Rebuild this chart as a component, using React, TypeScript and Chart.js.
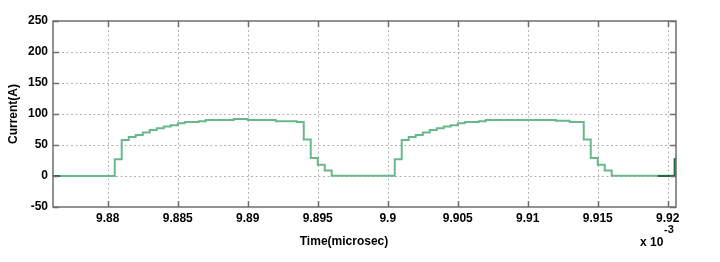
import { useEffect, useRef } from 'react';
import { Chart, registerables } from 'chart.js';

Chart.register(...registerables);

// Time axis values are in units of 1e-3 (label "x 10^-3")
const timeMs = [
  9.8761, 9.8805, 9.881, 9.8815, 9.882, 9.8825, 9.883, 9.8835, 9.884, 9.8845,
  9.885, 9.8855, 9.8865, 9.887, 9.889, 9.89, 9.892, 9.8935, 9.894, 9.8945,
  9.895, 9.8955, 9.896,
  9.9005, 9.901, 9.9015, 9.902, 9.9025, 9.903, 9.9035, 9.904, 9.9045,
  9.905, 9.9055, 9.9065, 9.907, 9.912, 9.913, 9.914, 9.9145,
  9.915, 9.9155, 9.916, 9.9205, 9.92059,
];
const currentA = [
  0, 27, 58, 63, 66, 70, 74, 77, 80, 82,
  85, 87, 88.5, 90.5, 92, 90.5, 88.5, 87, 59, 29,
  18, 9, 0.5,
  27, 58, 63, 66, 70, 74, 77, 80, 82,
  85, 87, 88.5, 90.5, 89, 87, 59, 29,
  18, 9, 0.5, 27, 27,
];

// Darker trace fragments visible at both edges
const edgeLeftTime = [9.8761, 9.8766];
const edgeLeftCurrent = [0, 0];
const edgeRightTime = [9.9193, 9.9205, 9.92059];
const edgeRightCurrent = [0, 27, 27];

const xTicks = [9.88, 9.885, 9.89, 9.895, 9.9, 9.905, 9.91, 9.915, 9.92];
const xTickLabels = ['9.88', '9.885', '9.89', '9.895', '9.9', '9.905', '9.91', '9.915', '9.92'];
const yTicks = [-50, 0, 50, 100, 150, 200, 250];

const X_MIN = 9.87609;
const X_MAX = 9.92059;
const FONT = '"Liberation Sans", Arial, sans-serif';

const toPoints = (xs: number[], ys: number[]) => xs.map((x, i) => ({ x, y: ys[i] }));

const framePlugin = {
  id: 'matlabFrame',
  beforeDatasetsDraw(chart: any) {
    const { ctx, chartArea: a, scales } = chart;
    ctx.save();
    ctx.strokeStyle = '#b2b2b2';
    ctx.lineWidth = 1;
    ctx.setLineDash([2, 2.5]);
    for (const v of xTicks) {
      const px = Math.round(scales.x.getPixelForValue(v)) + 0.5;
      ctx.beginPath();
      ctx.moveTo(px, a.top);
      ctx.lineTo(px, a.bottom);
      ctx.stroke();
    }
    for (const v of yTicks) {
      if (v === -50 || v === 250) continue;
      const py = Math.round(scales.y.getPixelForValue(v)) + 0.5;
      ctx.beginPath();
      ctx.moveTo(a.left, py);
      ctx.lineTo(a.right, py);
      ctx.stroke();
    }
    ctx.restore();
  },
  afterDatasetsDraw(chart: any) {
    const { ctx, chartArea: a, scales } = chart;
    ctx.save();
    ctx.strokeStyle = '#6e6e6e';
    ctx.lineWidth = 1.5;
    ctx.setLineDash([]);
    ctx.strokeRect(a.left, a.top, a.right - a.left, a.bottom - a.top);
    const tl = 6;
    ctx.beginPath();
    for (const v of xTicks) {
      const px = Math.round(scales.x.getPixelForValue(v)) + 0.5;
      ctx.moveTo(px, a.bottom);
      ctx.lineTo(px, a.bottom - tl);
      ctx.moveTo(px, a.top);
      ctx.lineTo(px, a.top + tl);
    }
    for (const v of yTicks) {
      const py = Math.round(scales.y.getPixelForValue(v)) + 0.5;
      ctx.moveTo(a.left, py);
      ctx.lineTo(a.left + tl, py);
      ctx.moveTo(a.right, py);
      ctx.lineTo(a.right - tl, py);
    }
    ctx.stroke();

    ctx.fillStyle = '#000';
    ctx.font = `bold 12px ${FONT}`;
    ctx.textBaseline = 'middle';
    ctx.textAlign = 'center';
    ctx.fillText('Time(microsec)', 344, 242);
    ctx.textAlign = 'left';
    ctx.fillText('x 10', 640, 243);
    ctx.font = `bold 11px ${FONT}`;
    ctx.fillText('-3', 664, 230);

    ctx.font = `bold 12px ${FONT}`;
    ctx.translate(14, (a.top + a.bottom) / 2);
    ctx.rotate(-Math.PI / 2);
    ctx.textAlign = 'center';
    ctx.fillText('Current(A)', 0, 0);
    ctx.restore();
  },
};

export default function App() {
  const ref = useRef<HTMLCanvasElement | null>(null);

  useEffect(() => {
    if (!ref.current) return;
    const chart = new Chart(ref.current, {
      type: 'line',
      data: {
        datasets: [
          {
            data: toPoints(edgeLeftTime, edgeLeftCurrent),
            borderColor: '#1f6a42',
            borderWidth: 2,
            pointRadius: 0,
            stepped: 'before',
            fill: false,
          },
          {
            data: toPoints(edgeRightTime, edgeRightCurrent),
            borderColor: '#1f6a42',
            borderWidth: 2,
            pointRadius: 0,
            stepped: 'before',
            fill: false,
          },
          {
            data: toPoints(timeMs, currentA),
            borderColor: 'rgb(104,184,140)',
            borderWidth: 2,
            pointRadius: 0,
            stepped: 'before',
            fill: false,
          },
        ],
      },
      options: {
        animation: false,
        responsive: false,
        devicePixelRatio: 1,
        layout: { padding: { top: 21, right: 44, left: 0, bottom: 0 } },
        plugins: { legend: { display: false }, tooltip: { enabled: false } },
        scales: {
          x: {
            type: 'linear',
            min: X_MIN,
            max: X_MAX,
            grid: { display: false, drawTicks: false },
            border: { display: false },
            afterBuildTicks: (s: any) => {
              s.ticks = xTicks.map((v) => ({ value: v }));
            },
            afterFit: (s: any) => {
              s.height = 55;
            },
            ticks: {
              autoSkip: false,
              maxRotation: 0,
              padding: 4,
              color: '#000',
              font: { family: FONT, size: 12, weight: 'bold' },
              callback: (v: any) => {
                const i = xTicks.findIndex((t) => Math.abs(t - Number(v)) < 1e-9);
                return i >= 0 ? xTickLabels[i] : '';
              },
            },
          },
          y: {
            type: 'linear',
            min: -50,
            max: 250,
            grid: { display: false, drawTicks: false },
            border: { display: false },
            afterBuildTicks: (s: any) => {
              s.ticks = yTicks.map((v) => ({ value: v }));
            },
            afterFit: (s: any) => {
              s.width = 53;
            },
            ticks: {
              padding: 5,
              color: '#000',
              font: { family: FONT, size: 12, weight: 'bold' },
            },
          },
        },
      },
      plugins: [framePlugin],
    } as any);
    return () => chart.destroy();
  }, []);

  return (
    <div style={{ position: 'fixed', left: 0, top: 0, width: 720, height: 262, background: '#fff' }}>
      <canvas ref={ref} width={720} height={262} style={{ display: 'block', width: 720, height: 262 }} />
    </div>
  );
}
